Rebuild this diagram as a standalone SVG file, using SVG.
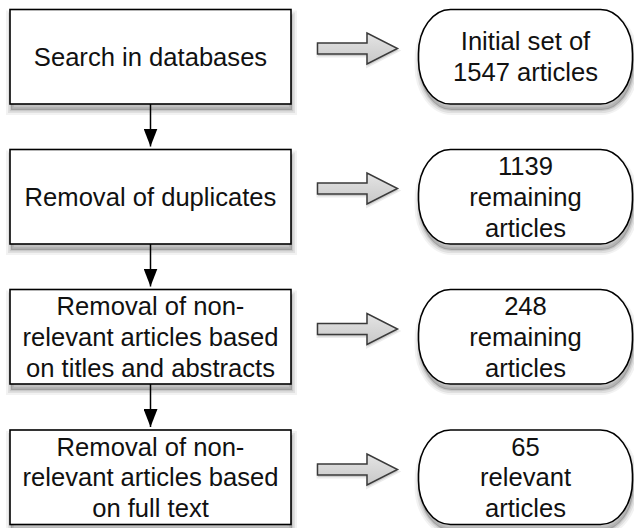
<svg xmlns="http://www.w3.org/2000/svg" width="634" height="528" viewBox="0 0 634 528">
<style>
.box{fill:#fff;stroke:#000;stroke-width:1.6}
.t{font-family:"Liberation Sans",Arial,Helvetica,sans-serif;font-size:25.6px;fill:#111;text-anchor:middle}
.conn{stroke:#000;stroke-width:1.5;fill:none}
.big{fill:url(#g);stroke:#3a3a3a;stroke-width:1.5;stroke-linejoin:miter}
.s1{fill:none;stroke:#000;stroke-opacity:0.05;stroke-width:10}
.s2{fill:none;stroke:#000;stroke-opacity:0.07;stroke-width:6}
.s3{fill:#000;fill-opacity:0.2;stroke:#000;stroke-opacity:0.1;stroke-width:2.5}
.as{fill:#000;fill-opacity:0.12;stroke:#000;stroke-opacity:0.08;stroke-width:3}
</style>
<defs>
<linearGradient id="g" x1="0" y1="0" x2="0" y2="1">
<stop offset="0" stop-color="#e4e4e4"/>
<stop offset="1" stop-color="#c8c8c8"/>
</linearGradient>
<marker id="ah" markerWidth="18" markerHeight="14" refX="18" refY="7" orient="auto" markerUnits="userSpaceOnUse" viewBox="0 0 18 14">
<path d="M0,0 L18,7 L0,14 Z" fill="#000"/>
</marker>
<path id="hollow" d="M0,-5.5 L49.5,-5.5 L49.5,-15.5 L80,0 L49.5,15.5 L49.5,5.5 L0,5.5 Z"/>
<rect id="sq" x="0" y="0" width="281" height="94.5"/>
<rect id="rr" x="0" y="0" width="214" height="94.5" rx="32" ry="44"/>
<g id="sqs"><use href="#sq" class="s1"/><use href="#sq" class="s2"/><use href="#sq" class="s3"/></g>
<g id="rrs"><use href="#rr" class="s1"/><use href="#rr" class="s2"/><use href="#rr" class="s3"/></g>
</defs>

<g id="connectors">
<line class="conn" x1="150.5" y1="104" x2="150.5" y2="146.5" marker-end="url(#ah)"/>
<line class="conn" x1="150.5" y1="244" x2="150.5" y2="286.5" marker-end="url(#ah)"/>
<line class="conn" x1="150.5" y1="384" x2="150.5" y2="427" marker-end="url(#ah)"/>
<use href="#hollow" class="as" x="318" y="50.5"/>
<use href="#hollow" class="as" x="318" y="190.5"/>
<use href="#hollow" class="as" x="318" y="331"/>
<use href="#hollow" class="as" x="318" y="471.5"/>
<use href="#hollow" class="big" x="317.5" y="48.5"/>
<use href="#hollow" class="big" x="317.5" y="188.5"/>
<use href="#hollow" class="big" x="317.5" y="329"/>
<use href="#hollow" class="big" x="317.5" y="469.5"/>
</g>

<g id="step1">
<use href="#sqs" transform="translate(11,15.5)"/>
<use href="#sq" class="box" transform="translate(10,9.5)"/>
<text class="t" x="150.5" y="65.7">Search in databases</text>
</g>
<g id="step2">
<use href="#sqs" transform="translate(11,155.5)"/>
<use href="#sq" class="box" transform="translate(10,149.5)"/>
<text class="t" x="150.5" y="205.7">Removal of duplicates</text>
</g>
<g id="step3">
<use href="#sqs" transform="translate(11,295.5)"/>
<use href="#sq" class="box" transform="translate(10,289.5)"/>
<text class="t" x="150.5" y="315">Removal of non-</text>
<text class="t" x="150.5" y="345.7">relevant articles based</text>
<text class="t" x="150.5" y="376.5">on titles and abstracts</text>
</g>
<g id="step4">
<use href="#sqs" transform="translate(11,436)"/>
<use href="#sq" class="box" transform="translate(10,430)"/>
<text class="t" x="150.5" y="455.5">Removal of non-</text>
<text class="t" x="150.5" y="486.3">relevant articles based</text>
<text class="t" x="150.5" y="517">on full text</text>
</g>

<g id="result1">
<use href="#rrs" transform="translate(419.5,15.5)"/>
<use href="#rr" class="box" transform="translate(418.5,9.5)"/>
<text class="t" x="525.5" y="50.3">Initial set of</text>
<text class="t" x="525.5" y="81.3">1547 articles</text>
</g>
<g id="result2">
<use href="#rrs" transform="translate(419.5,155.5)"/>
<use href="#rr" class="box" transform="translate(418.5,149.5)"/>
<text class="t" x="525.5" y="174.5">1139</text>
<text class="t" x="525.5" y="205.5">remaining</text>
<text class="t" x="525.5" y="236.5">articles</text>
</g>
<g id="result3">
<use href="#rrs" transform="translate(419.5,295.5)"/>
<use href="#rr" class="box" transform="translate(418.5,289.5)"/>
<text class="t" x="525.5" y="314.5">248</text>
<text class="t" x="525.5" y="345.5">remaining</text>
<text class="t" x="525.5" y="376.5">articles</text>
</g>
<g id="result4">
<use href="#rrs" transform="translate(419.5,436)"/>
<use href="#rr" class="box" transform="translate(418.5,430)"/>
<text class="t" x="525.5" y="455.5">65</text>
<text class="t" x="525.5" y="486.3">relevant</text>
<text class="t" x="525.5" y="517">articles</text>
</g>
</svg>
